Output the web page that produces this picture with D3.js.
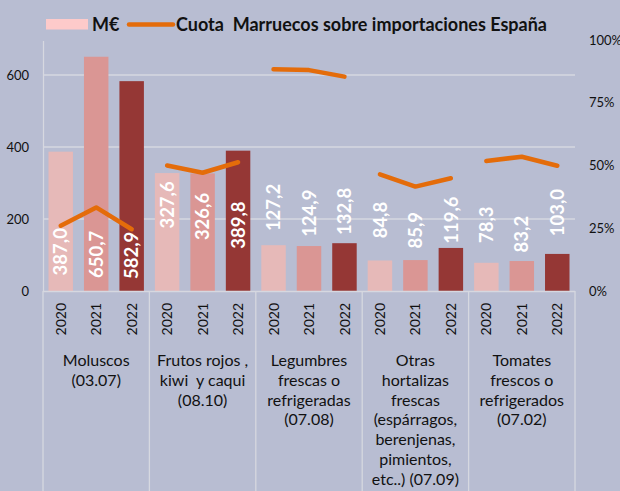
<!DOCTYPE html>
<html>
<head>
<meta charset="utf-8">
<script src="https://cdn.jsdelivr.net/npm/d3@7"></script>
<style>
  body { margin: 0; background: #b8bdd2; }
  svg { display: block; font-family: Lato, "Open Sans", sans-serif; }
  text { white-space: pre; }
</style>
</head>
<body>
<script>
(function(){

//chart data
var categories = ["Moluscos", "Frutos", "Legumbres", "Otras", "Tomates"];
var categoryLabels = [
    ["Moluscos", "(03.07)"],
    ["Frutos rojos ,", "kiwi  y caqui", "(08.10)"],
    ["Legumbres", "frescas o", "refrigeradas", "(07.08)"],
    ["Otras", "hortalizas", "frescas", "(espárragos,", "berenjenas,", "pimientos,", "etc..) (07.09)"],
    ["Tomates", "frescos o", "refrigerados", "(07.02)"]
];
var years = ["2020", "2021", "2022"];
var valores = [
    [387.0, 650.7, 582.9],
    [327.6, 326.6, 389.8],
    [127.2, 124.9, 132.8],
    [84.8, 85.9, 119.6],
    [78.3, 83.2, 103.0]
];
var cuota = [
    [0.26, 0.333, 0.246],
    [0.50, 0.471, 0.513],
    [0.883, 0.88, 0.854],
    [0.465, 0.416, 0.449],
    [0.518, 0.535, 0.499]
];
var leftTicks = [0, 200, 400, 600];
var rightTicks = [0, 0.25, 0.5, 0.75, 1];

//where each value label sits (label centre, in M€ units)
var labelAnchor = [
    [109, 102, 99],
    [239, 207, 183],
    [232, 216, 221],
    [197, 169, 197],
    [184, 158, 218]
];

var barColors = ["#e6b9b8", "#da9694", "#953735"];
var lineColor = "#e46c0a";
var gridColor = "#d6d8e0";

var width = 620,
    height = 491;

var svg = d3.select("body")
    .append("svg")
    .attr("width", width)
    .attr("height", height);

//scales
var x0 = d3.scaleBand()
    .domain(categories)
    .range([43, 575])
    .padding(0);

var x1 = d3.scaleBand()
    .domain(years)
    .range([0, x0.bandwidth()])
    .paddingInner(0.31)
    .paddingOuter(0.155);

var yLeft = d3.scaleLinear()
    .domain([0, 700])
    .range([291, 39]);

var yRight = d3.scaleLinear()
    .domain([0, 1])
    .range([291, 40]);

//gridlines
svg.selectAll(".grid")
    .data(leftTicks.filter(function(d){ return d > 0; }))
    .enter()
    .append("line")
    .attr("x1", 43)
    .attr("x2", 575)
    .attr("y1", function(d){ return yLeft(d); })
    .attr("y2", function(d){ return yLeft(d); })
    .attr("stroke", gridColor)
    .attr("stroke-width", 1.3);

//left axis line
svg.append("line")
    .attr("x1", 43.5).attr("x2", 43.5)
    .attr("y1", 41).attr("y2", 291)
    .attr("stroke", gridColor)
    .attr("stroke-width", 1.3);

//left tick labels
svg.selectAll(".ltick")
    .data(leftTicks)
    .enter()
    .append("text")
    .attr("x", 29)
    .attr("y", function(d){ return yLeft(d); })
    .attr("dy", "0.35em")
    .attr("text-anchor", "end")
    .attr("font-size", 13)
    .attr("fill", "#111")
    .text(function(d){ return d; });

//right tick labels
svg.selectAll(".rtick")
    .data(rightTicks)
    .enter()
    .append("text")
    .attr("x", 589)
    .attr("y", function(d){ return yRight(d); })
    .attr("dy", "0.35em")
    .attr("font-size", 13)
    .attr("fill", "#111")
    .text(function(d){ return Math.round(d * 100) + "%"; });

//bars
var groups = svg.selectAll(".cat")
    .data(categories)
    .enter()
    .append("g")
    .attr("transform", function(d){ return "translate(" + x0(d) + ",0)"; });

groups.selectAll("rect")
    .data(function(d, i){ return valores[i]; })
    .enter()
    .append("rect")
    .attr("x", function(d, j){ return x1(years[j]); })
    .attr("y", function(d){ return yLeft(d); })
    .attr("width", x1.bandwidth())
    .attr("height", function(d){ return yLeft(0) - yLeft(d); })
    .attr("fill", function(d, j){ return barColors[j]; });

//cuota lines, one per category
var line = d3.line()
    .x(function(d, j){ return x1(years[j]) + x1.bandwidth() / 2; })
    .y(function(d){ return yRight(d); });

groups.append("path")
    .datum(function(d, i){ return cuota[i]; })
    .attr("d", line)
    .attr("fill", "none")
    .attr("stroke", lineColor)
    .attr("stroke-width", 4.5)
    .attr("stroke-linecap", "round")
    .attr("stroke-linejoin", "round");

//value labels
groups.selectAll(".vlabel")
    .data(function(d, i){
        return valores[i].map(function(v, j){ return {v: v, j: j, a: labelAnchor[i][j]}; });
    })
    .enter()
    .append("text")
    .attr("transform", function(d){
        return "translate(" + (x1(years[d.j]) + x1.bandwidth() / 2) + "," + yLeft(d.a) + ") rotate(-90)";
    })
    .attr("text-anchor", "middle")
    .attr("dy", "0.36em")
    .attr("font-size", 18.5)
    .attr("font-weight", "bold")
    .attr("fill", "#ffffff")
    .text(function(d){ return d.v.toFixed(1).replace(".", ","); });

//category axis frame
svg.append("line")
    .attr("x1", 43).attr("x2", 575)
    .attr("y1", 291.5).attr("y2", 291.5)
    .attr("stroke", gridColor)
    .attr("stroke-width", 1.3);

svg.selectAll(".sep")
    .data(categories.concat(["end"]))
    .enter()
    .append("line")
    .attr("x1", function(d, i){ return i < categories.length ? x0(d) : 575; })
    .attr("x2", function(d, i){ return i < categories.length ? x0(d) : 575; })
    .attr("y1", 291)
    .attr("y2", height)
    .attr("stroke", gridColor)
    .attr("stroke-width", 1.3);

//year labels
groups.selectAll(".year")
    .data(years)
    .enter()
    .append("text")
    .attr("transform", function(d){
        return "translate(" + (x1(d) + x1.bandwidth() / 2) + ",303) rotate(-90)";
    })
    .attr("text-anchor", "end")
    .attr("dy", "0.36em")
    .attr("font-size", 14)
    .attr("fill", "#111")
    .text(function(d){ return d; });

//category labels
groups.append("text")
    .attr("text-anchor", "middle")
    .attr("font-size", 16)
    .attr("fill", "#111")
    .selectAll("tspan")
    .data(function(d, i){ return categoryLabels[i]; })
    .enter()
    .append("tspan")
    .attr("x", x0.bandwidth() / 2)
    .attr("y", function(d, k){ return 366 + k * 19.8; })
    .text(function(d){ return d; });

//legend
var legend = svg.append("g");

legend.append("rect")
    .attr("x", 46).attr("y", 19)
    .attr("width", 42).attr("height", 10.5)
    .attr("fill", "#fdcaca");

legend.append("text")
    .attr("x", 92).attr("y", 30.5)
    .attr("font-size", 18)
    .attr("font-weight", "bold")
    .attr("fill", "#111")
    .text("M€");

legend.append("line")
    .attr("x1", 129).attr("x2", 173)
    .attr("y1", 24.5).attr("y2", 24.5)
    .attr("stroke", lineColor)
    .attr("stroke-width", 4.5)
    .attr("stroke-linecap", "round");

legend.append("text")
    .attr("x", 176).attr("y", 30.5)
    .attr("font-size", 18)
    .attr("font-weight", "bold")
    .attr("fill", "#111")
    .text("Cuota  Marruecos sobre importaciones España");

})();
</script>
</body>
</html>
